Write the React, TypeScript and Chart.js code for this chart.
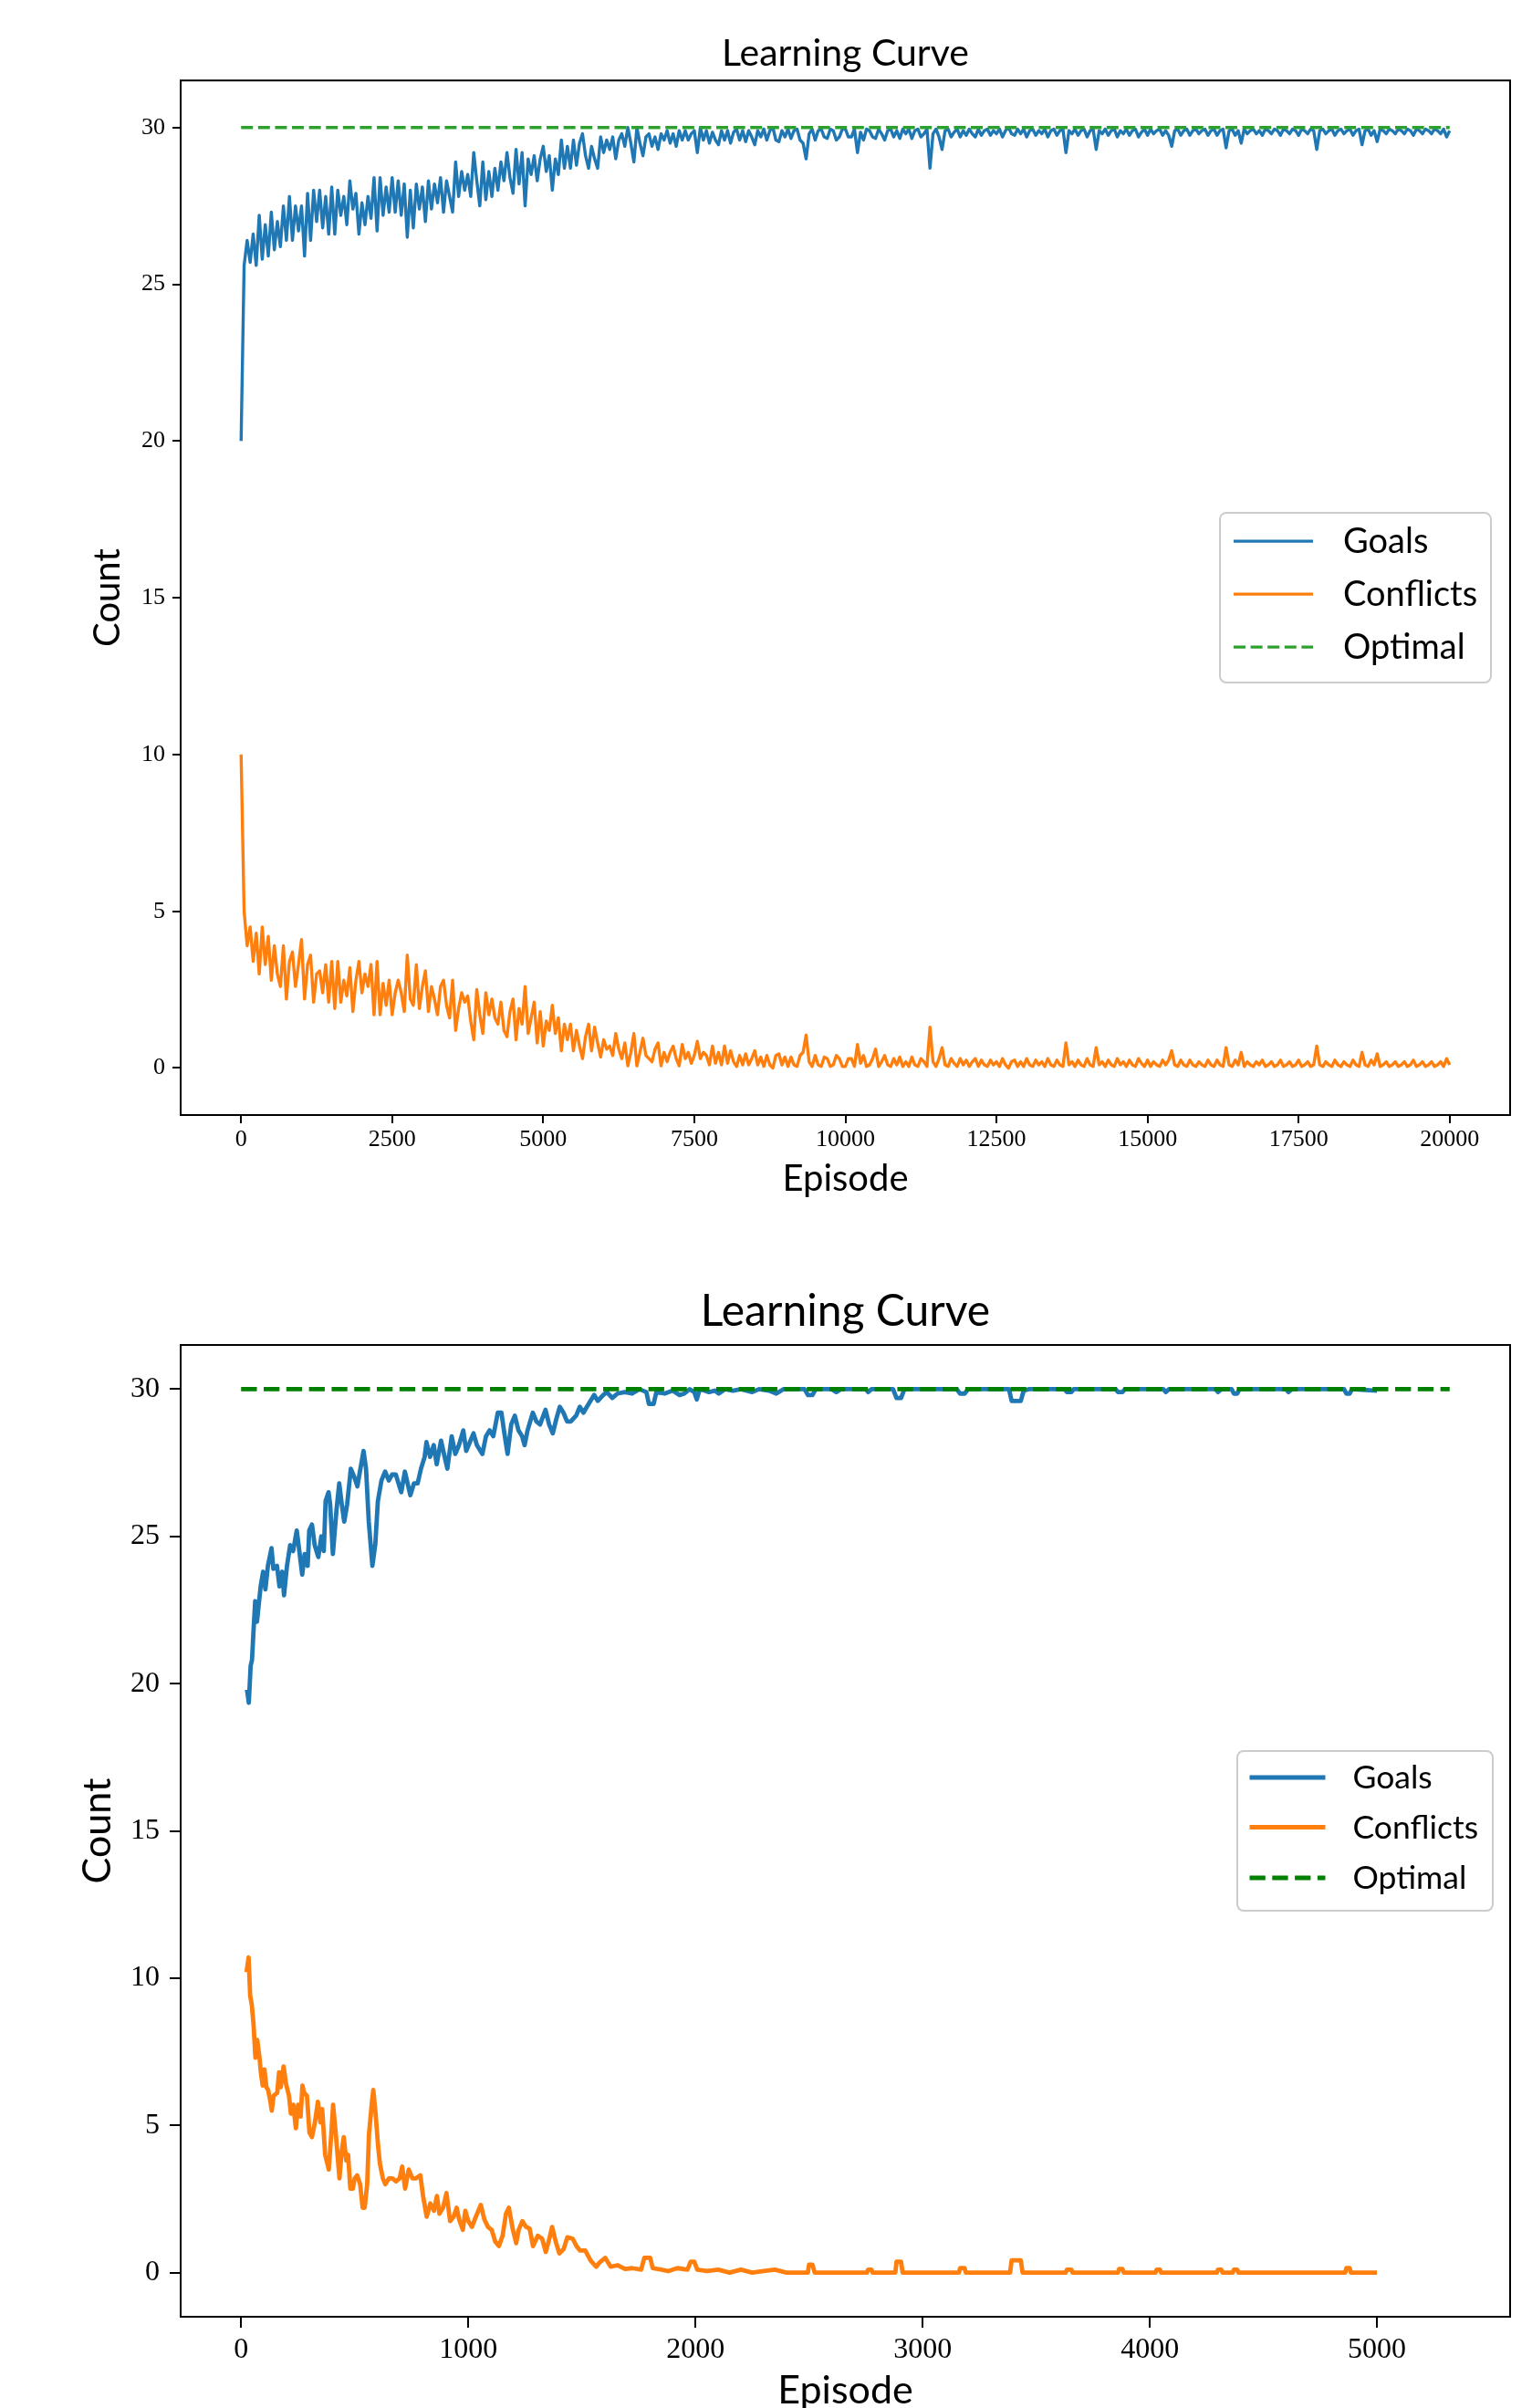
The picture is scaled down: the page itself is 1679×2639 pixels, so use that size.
import React, { useEffect, useRef } from "react";
import { Chart, registerables } from "chart.js";

Chart.register(...registerables);

// ---------------- DATA ----------------
const titleText = "Learning Curve";
const xLabel = "Episode";
const yLabel = "Count";
const seriesLabels = ["Goals", "Conflicts", "Optimal"];

const yTicks = [0, 5, 10, 15, 20, 25, 30];
const topXTicks = [0, 2500, 5000, 7500, 10000, 12500, 15000, 17500, 20000];
const bottomXTicks = [0, 1000, 2000, 3000, 4000, 5000];

// Top panel: one reading every 50 episodes, 0 .. 20000
const topEpisodeStep = 50;
const topGoals = [
  20.0, 25.6, 26.4, 25.7, 26.6, 25.6, 27.2, 25.8, 26.9, 25.9, 27.3, 26.1, 27.0, 26.2, 27.5, 26.4, 27.8, 26.4, 27.5, 26.7,
  27.5, 25.9, 27.9, 26.4, 28.0, 27.0, 28.0, 26.8, 27.8, 26.6, 28.1, 26.6, 28.0, 27.2, 27.8, 26.9, 28.3, 27.4, 27.9, 26.6,
  27.6, 26.9, 27.8, 27.1, 28.4, 26.7, 28.4, 27.2, 28.1, 27.3, 28.4, 27.3, 28.3, 27.2, 28.2, 26.5, 28.0, 26.8, 28.2, 27.4,
  28.1, 27.0, 28.3, 27.4, 28.2, 27.6, 28.4, 27.3, 28.3, 27.8, 27.3, 28.9, 27.8, 28.6, 28.0, 28.5, 27.8, 29.2, 28.3, 27.5,
  28.9, 27.7, 28.6, 27.8, 28.7, 28.0, 28.9, 28.3, 29.2, 28.4, 27.9, 29.3, 28.2, 29.2, 27.5, 29.0, 28.5, 29.1, 28.3, 29.0,
  29.4, 28.6, 29.1, 28.0, 29.0, 28.5, 29.6, 28.7, 29.4, 28.7, 29.6, 28.8, 29.5, 29.8, 29.1, 28.7, 29.4, 29.0, 28.7, 29.7,
  29.2, 29.6, 29.3, 29.7, 29.0, 29.6, 29.8, 29.4, 30.0, 29.5, 28.9, 30.0, 29.5, 29.1, 29.7, 29.8, 29.4, 29.7, 29.3, 29.8,
  29.6, 29.9, 29.5, 29.8, 29.4, 29.9, 29.6, 29.9, 29.6, 29.8, 29.9, 29.2, 30.0, 29.6, 29.9, 29.5, 29.85, 29.6, 29.45, 29.9,
  29.6, 29.9, 29.5, 29.85, 29.95, 29.6, 29.9, 29.55, 29.9, 29.7, 29.45, 29.9, 29.7, 29.95, 29.6, 29.9, 30.0, 29.6, 29.55, 29.9,
  29.7, 29.95, 29.65, 29.9, 29.95, 29.6, 29.5, 29.0, 29.8, 29.95, 29.6, 29.9, 29.95, 29.7, 29.65, 29.95, 29.9, 29.6, 29.7, 29.95,
  29.95, 29.7, 29.7, 29.95, 29.2, 29.85, 29.6, 29.95, 29.9, 29.7, 29.65, 29.95, 29.8, 29.6, 29.9, 29.95, 29.7, 29.9, 29.65, 29.95,
  29.8, 29.95, 29.65, 29.9, 29.95, 29.7, 29.8, 29.95, 28.7, 29.8, 29.95, 29.7, 29.3, 29.9, 29.95, 29.7, 29.85, 29.95, 29.7, 29.9,
  29.75, 29.95, 29.8, 29.7, 29.95, 29.75, 29.9, 29.95, 29.75, 29.9, 29.8, 29.95, 29.7, 29.9, 30.0, 29.8, 29.75, 29.95, 29.8, 29.95,
  29.7, 29.9, 29.95, 29.75, 29.9, 29.8, 29.95, 29.7, 29.9, 29.95, 29.75, 29.9, 29.95, 29.2, 29.9, 29.8, 29.95, 29.75, 29.9, 29.95,
  29.7, 29.9, 29.95, 29.3, 29.9, 29.8, 29.95, 29.75, 29.9, 29.95, 29.7, 29.9, 29.8, 29.95, 29.75, 29.9, 29.95, 29.7, 29.85, 29.95,
  29.75, 29.95, 29.8, 29.9, 29.95, 29.75, 29.9, 29.75, 29.4, 29.9, 29.95, 29.75, 29.9, 29.95, 29.75, 29.9, 29.95, 29.8, 29.9, 29.95,
  29.75, 29.9, 29.95, 29.75, 29.9, 29.95, 29.35, 29.9, 29.95, 29.75, 29.9, 29.5, 29.95, 29.8, 29.9, 29.95, 29.8, 29.9, 29.75, 29.95,
  29.9, 29.8, 29.95, 29.9, 29.75, 29.95, 29.9, 29.8, 29.95, 29.9, 29.75, 29.95, 29.9, 29.8, 29.95, 29.9, 29.3, 29.9, 29.95, 29.8,
  29.9, 29.95, 29.75, 29.9, 29.95, 29.8, 29.9, 29.95, 29.75, 29.9, 29.95, 29.45, 29.9, 29.95, 29.75, 29.9, 29.55, 29.95, 29.9, 29.8,
  29.95, 29.9, 29.8, 29.95, 29.9, 29.8, 29.95, 29.9, 29.75, 29.95, 29.9, 29.8, 29.95, 29.9, 29.8, 29.95, 29.9, 29.8, 29.95, 29.7,
  29.9,
];
const topConflicts = [
  10.0, 5.0, 3.9, 4.5, 3.4, 4.3, 3.0, 4.5, 3.3, 4.2, 2.8, 3.9, 3.0, 2.6, 3.9, 2.2, 3.4, 3.7, 2.6, 3.3,
  4.1, 2.2, 3.3, 3.6, 2.1, 3.0, 3.1, 2.4, 3.3, 2.1, 3.4, 1.9, 3.4, 2.1, 2.8, 2.3, 3.2, 1.8, 2.8, 3.4,
  2.4, 3.0, 2.6, 3.3, 1.7, 3.4, 1.7, 2.7, 2.0, 2.8, 1.7, 2.4, 2.8, 2.4, 1.8, 3.6, 2.2, 2.0, 3.3, 1.9,
  2.6, 3.1, 1.8, 2.6, 2.2, 1.7, 2.6, 2.8, 2.0, 1.6, 2.8, 1.2, 1.9, 2.4, 2.1, 2.3, 1.5, 0.9, 2.5, 1.7,
  1.1, 2.4, 1.7, 2.2, 1.6, 1.4, 2.1, 1.2, 1.0, 1.8, 2.2, 0.9, 1.9, 1.4, 2.6, 1.1, 1.6, 2.1, 0.8, 1.8,
  0.7, 1.5, 1.2, 2.0, 1.1, 1.6, 0.55, 1.4, 0.9, 1.4, 0.55, 1.2, 0.7, 0.3, 1.0, 1.4, 0.55, 1.3, 0.8, 0.35,
  0.9, 0.6, 0.7, 0.4, 1.1, 0.6, 0.3, 0.8, 0.07, 0.5, 1.1, 0.07, 0.5, 0.95, 0.4, 0.3, 0.2, 0.6, 0.8, 0.07,
  0.5, 0.2, 0.5, 0.7, 0.3, 0.07, 0.75, 0.3, 0.5, 0.15, 0.4, 0.85, 0.3, 0.5, 0.4, 0.1, 0.7, 0.15, 0.5, 0.1,
  0.7, 0.15, 0.55, 0.2, 0.05, 0.4, 0.1, 0.45, 0.1, 0.3, 0.55, 0.1, 0.35, 0.05, 0.4, 0.1, 0.0, 0.4, 0.45, 0.1,
  0.35, 0.05, 0.35, 0.1, 0.05, 0.4, 0.5, 1.05, 0.2, 0.05, 0.4, 0.1, 0.05, 0.35, 0.3, 0.05, 0.1, 0.4, 0.3, 0.05,
  0.05, 0.3, 0.3, 0.05, 0.75, 0.15, 0.4, 0.05, 0.1, 0.3, 0.6, 0.05, 0.2, 0.4, 0.1, 0.05, 0.3, 0.1, 0.35, 0.05,
  0.2, 0.05, 0.35, 0.1, 0.05, 0.3, 0.2, 0.05, 1.3, 0.2, 0.05, 0.3, 0.65, 0.1, 0.05, 0.3, 0.15, 0.05, 0.3, 0.1,
  0.25, 0.05, 0.2, 0.3, 0.05, 0.25, 0.1, 0.05, 0.25, 0.1, 0.2, 0.05, 0.3, 0.1, 0.0, 0.2, 0.25, 0.05, 0.2, 0.05,
  0.3, 0.1, 0.05, 0.25, 0.1, 0.2, 0.05, 0.3, 0.1, 0.05, 0.25, 0.1, 0.05, 0.8, 0.1, 0.2, 0.05, 0.25, 0.1, 0.05,
  0.3, 0.1, 0.05, 0.65, 0.1, 0.2, 0.05, 0.25, 0.1, 0.05, 0.3, 0.1, 0.2, 0.05, 0.25, 0.1, 0.05, 0.3, 0.15, 0.05,
  0.25, 0.05, 0.2, 0.1, 0.05, 0.25, 0.1, 0.25, 0.55, 0.1, 0.05, 0.25, 0.1, 0.05, 0.25, 0.1, 0.05, 0.2, 0.1, 0.05,
  0.25, 0.1, 0.05, 0.25, 0.1, 0.05, 0.65, 0.1, 0.05, 0.25, 0.1, 0.5, 0.05, 0.2, 0.1, 0.05, 0.2, 0.1, 0.25, 0.05,
  0.1, 0.2, 0.05, 0.1, 0.25, 0.05, 0.1, 0.2, 0.05, 0.1, 0.25, 0.05, 0.1, 0.2, 0.05, 0.1, 0.7, 0.1, 0.05, 0.2,
  0.1, 0.05, 0.25, 0.1, 0.05, 0.2, 0.1, 0.05, 0.25, 0.1, 0.05, 0.5, 0.1, 0.05, 0.25, 0.1, 0.45, 0.05, 0.1, 0.2,
  0.05, 0.1, 0.2, 0.05, 0.1, 0.2, 0.05, 0.1, 0.25, 0.05, 0.1, 0.2, 0.05, 0.1, 0.2, 0.05, 0.1, 0.2, 0.05, 0.3,
  0.1,
];
const topOptimalX = [0, 20000];
const topOptimalY = [30, 30];

// Bottom panel (5000 episodes, smoothed)
const bottomGoalsX = [
  26, 34, 42, 48, 54, 62, 70, 78, 86, 97, 107, 118, 134, 142, 158, 169, 181, 189, 202, 216, 229, 245, 258, 269, 280,
  293, 300, 312, 324, 340, 353, 364, 372, 385, 392, 404, 420, 432, 443, 454, 467, 483, 499, 512, 523, 539, 550, 562,
  578, 591, 602, 618, 634, 650, 665, 681, 705, 721, 745, 761, 777, 792, 808, 816, 832, 848, 861, 880, 896, 908, 927,
  943, 959, 978, 991, 1007, 1023, 1038, 1062, 1078, 1094, 1110, 1130, 1146, 1157, 1173, 1189, 1205, 1221, 1237, 1248,
  1261, 1284, 1300, 1316, 1340, 1356, 1372, 1388, 1403, 1419, 1435, 1451, 1475, 1491, 1507, 1522, 1538, 1554, 1570,
  1594, 1610, 1634, 1657, 1689, 1721, 1753, 1784, 1795, 1816, 1828, 1864, 1900, 1930, 1951, 1975, 1995, 2006, 2015,
  2022, 2060, 2086, 2102, 2130, 2165, 2200, 2250, 2280, 2324, 2356, 2387, 2480, 2495, 2515, 2530, 2600, 2620, 2640,
  2750, 2760, 2775, 2870, 2885, 2905, 2920, 3150, 3165, 3185, 3200, 3380, 3392, 3432, 3445, 3470, 3625, 3635, 3655,
  3665, 3850, 3860, 3880, 3890, 4060, 4070, 4085, 4290, 4300, 4315, 4360, 4370, 4385, 4395, 4600, 4610, 4625, 4855,
  4865, 4880, 4890, 5000,
];
const bottomGoalsY = [
  19.8, 19.35, 20.6, 20.8, 21.7, 22.8, 22.1, 22.7, 23.3, 23.8, 23.2, 24.0, 24.6, 23.9, 24.0, 23.3, 23.8, 23.0, 24.0,
  24.7, 24.5, 25.2, 24.4, 23.7, 24.4, 24.0, 25.2, 25.4, 24.7, 24.3, 25.0, 24.5, 26.2, 26.5, 26.1, 24.4, 25.9, 26.8,
  26.1, 25.5, 26.1, 27.3, 27.0, 26.7, 27.2, 27.9, 27.3, 25.5, 24.0, 24.75, 26.2, 26.9, 27.2, 26.9, 27.1, 27.1, 26.5,
  27.2, 26.4, 26.8, 26.8, 27.3, 27.7, 28.2, 27.7, 28.1, 27.45, 28.25, 27.7, 27.3, 28.4, 27.8, 28.1, 28.6, 27.9, 28.2,
  28.5, 28.1, 27.8, 28.4, 28.6, 28.4, 29.2, 29.2, 28.6, 27.8, 28.8, 29.1, 28.6, 28.4, 28.1, 28.6, 29.2, 28.9, 28.8,
  29.3, 28.8, 28.5, 29.0, 29.4, 29.2, 28.9, 28.9, 29.1, 29.4, 29.2, 29.4, 29.6, 29.8, 29.6, 29.8, 29.9, 29.7, 29.85,
  29.9, 29.85, 30.0, 29.9, 29.5, 29.5, 29.9, 29.85, 29.95, 29.8, 29.85, 30.0, 29.9, 29.65, 29.9, 30.0, 29.9, 29.95,
  29.85, 30.0, 29.95, 30.0, 29.9, 30.0, 29.95, 29.85, 30.0, 30.0, 29.8, 29.8, 30.0, 30.0, 29.9, 30.0, 30.0, 29.9,
  30.0, 30.0, 29.7, 29.7, 30.0, 30.0, 29.85, 29.85, 30.0, 30.0, 29.6, 29.6, 29.95, 30.0, 30.0, 29.9, 29.9, 30.0,
  30.0, 29.9, 29.9, 30.0, 30.0, 29.9, 30.0, 30.0, 29.9, 30.0, 30.0, 29.85, 29.85, 30.0, 30.0, 29.9, 30.0, 30.0,
  29.85, 29.85, 30.0, 29.95,
];

const bottomConflictsX = [
  24, 33, 40, 47, 55, 63, 71, 81, 87, 95, 103, 111, 119, 127, 135, 143, 159, 167, 175, 187, 198, 211, 219, 230, 241,
  251, 262, 270, 278, 290, 301, 312, 325, 338, 349, 357, 370, 386, 397, 405, 417, 433, 444, 452, 463, 471, 481, 492,
  500, 511, 524, 535, 544, 555, 563, 576, 582, 592, 603, 611, 624, 635, 651, 666, 682, 698, 709, 722, 738, 754, 770,
  789, 801, 817, 833, 849, 862, 873, 889, 904, 920, 936, 949, 960, 976, 987, 1000, 1016, 1031, 1055, 1071, 1087, 1103,
  1119, 1135, 1151, 1166, 1179, 1195, 1211, 1222, 1238, 1254, 1270, 1285, 1306, 1325, 1341, 1357, 1369, 1385, 1401,
  1420, 1436, 1460, 1476, 1492, 1515, 1539, 1563, 1579, 1603, 1627, 1658, 1690, 1722, 1761, 1775, 1801, 1812, 1850,
  1880, 1920, 1965, 1979, 1995, 2008, 2050, 2100, 2150, 2200, 2250, 2300, 2350, 2400, 2495, 2500, 2515, 2525, 2755,
  2760, 2775, 2780, 2880, 2885, 2905, 2912, 3160, 3165, 3185, 3190, 3385, 3392, 3432, 3440, 3630, 3635, 3655, 3660,
  3860, 3865, 3880, 3885, 4025, 4030, 4045, 4050, 4295, 4300, 4315, 4320, 4365, 4370, 4385, 4390, 4860, 4865, 4880,
  4885, 5000,
];
const bottomConflictsY = [
  10.2, 10.7, 9.4, 9.1, 8.4, 7.3, 7.9, 7.3, 6.8, 6.35, 6.9, 6.3, 6.2, 5.9, 5.5, 6.0, 6.1, 6.8, 6.3, 7.0, 6.4, 6.0, 5.4,
  5.7, 4.9, 5.7, 5.3, 6.35, 6.1, 6.0, 4.75, 4.6, 5.1, 5.8, 5.1, 5.55, 4.0, 3.5, 4.7, 5.7, 4.7, 3.2, 4.2, 4.6, 3.8, 4.0,
  2.85, 2.85, 3.2, 3.3, 3.0, 2.2, 2.2, 3.0, 4.7, 5.8, 6.2, 5.4, 4.3, 3.7, 3.2, 3.0, 3.2, 3.2, 3.1, 3.2, 3.6, 2.85, 3.5,
  3.2, 3.2, 3.3, 2.6, 1.9, 2.35, 2.1, 2.6, 2.0, 2.2, 2.7, 1.75, 1.9, 2.2, 1.8, 1.45, 2.1, 1.75, 1.55, 1.85, 2.3, 1.8,
  1.55, 1.45, 1.05, 0.9, 1.25, 2.0, 2.2, 1.5, 1.0, 1.45, 1.75, 1.55, 1.5, 0.9, 1.25, 1.15, 0.7, 1.15, 1.55, 1.05, 0.65,
  0.8, 1.2, 1.15, 0.9, 0.75, 0.75, 0.4, 0.2, 0.35, 0.5, 0.2, 0.25, 0.12, 0.15, 0.1, 0.5, 0.5, 0.15, 0.1, 0.05, 0.15,
  0.1, 0.37, 0.37, 0.1, 0.05, 0.1, 0.0, 0.1, 0.0, 0.05, 0.1, 0.0, 0.0, 0.27, 0.27, 0.0, 0.0, 0.1, 0.1, 0.0, 0.0, 0.37,
  0.37, 0.0, 0.0, 0.15, 0.15, 0.0, 0.0, 0.42, 0.42, 0.0, 0.0, 0.1, 0.1, 0.0, 0.0, 0.12, 0.12, 0.0, 0.0, 0.1, 0.1, 0.0,
  0.0, 0.1, 0.1, 0.0, 0.0, 0.1, 0.1, 0.0, 0.0, 0.15, 0.15, 0.0, 0.0,
];
const bottomOptimalX = [0, 5320];
const bottomOptimalY = [30, 30];

// ---------------- STYLE ----------------
const SANS = 'Lato, "Open Sans", "DejaVu Sans", sans-serif';
const SERIF = '"Liberation Serif", "DejaVu Serif", serif';
const C_BLUE = "#1f77b4";
const C_ORANGE = "#ff7f0e";

const pairs = (xs: number[], ys: number[]) => {
  const n = Math.min(xs.length, ys.length);
  const out: { x: number; y: number }[] = [];
  for (let i = 0; i < n; i++) out.push({ x: xs[i], y: ys[i] });
  return out;
};
const stepped = (ys: number[], step: number) => ys.map((y, i) => ({ x: i * step, y }));

const frameLegendPlugin = {
  id: "frameLegend",
  afterLayout(chart: any) {
    const tb = chart.titleBlock;
    if (tb) {
      tb.left = chart.chartArea.left;
      tb.right = chart.chartArea.right;
    }
  },
  afterDraw(chart: any, _args: any, o: any) {
    const { ctx, chartArea: a } = chart;
    ctx.save();
    ctx.lineWidth = o.frameWidth;
    ctx.strokeStyle = "#000";
    ctx.strokeRect(a.left, a.top, a.right - a.left, a.bottom - a.top);

    const g = o.legend;
    const bx = a.right - g.rightGap - g.width;
    const by = (a.top + a.bottom) / 2 - g.height / 2 + g.shiftY;
    ctx.beginPath();
    ctx.roundRect(bx, by, g.width, g.height, g.radius);
    ctx.fillStyle = "rgba(255,255,255,0.8)";
    ctx.fill();
    ctx.lineWidth = g.borderWidth;
    ctx.strokeStyle = "#cccccc";
    ctx.stroke();

    ctx.font = `${g.fontSize}px ${SANS}`;
    ctx.textBaseline = "middle";
    ctx.textAlign = "left";
    chart.data.datasets.forEach((ds: any, i: number) => {
      const ry = by + g.rows[i];
      ctx.beginPath();
      ctx.setLineDash(ds.borderDash || []);
      ctx.lineWidth = ds.borderWidth;
      ctx.strokeStyle = ds.borderColor;
      ctx.moveTo(bx + g.lineStart, ry);
      ctx.lineTo(bx + g.lineEnd, ry);
      ctx.stroke();
      ctx.setLineDash([]);
      ctx.fillStyle = "#000";
      ctx.fillText(ds.label, bx + g.textX, ry + g.textDy);
    });
    ctx.restore();
  },
};

type Panel = {
  height: number;
  datasets: any[];
  xMin: number;
  xMax: number;
  xTicks: number[];
  titleSize: number;
  titlePad: { top: number; bottom: number };
  tickSize: number;
  tickLen: number;
  xTickPad: number;
  yTickPad: number;
  labelSize: number;
  xTitlePadBottom: number;
  xTitleLineHeight: number;
  yTitlePadTop: number;
  xAxisHeight: number;
  legend: any;
};

function buildConfig(p: Panel): any {
  const tickFont = { family: SERIF, size: p.tickSize };
  const grid = {
    drawOnChartArea: false,
    drawTicks: true,
    tickLength: p.tickLen,
    tickWidth: 2,
    lineWidth: 2,
    color: "#000",
  };
  return {
    type: "line",
    data: { datasets: p.datasets },
    plugins: [frameLegendPlugin],
    options: {
      responsive: false,
      animation: false,
      devicePixelRatio: 1,
      layout: { padding: { left: 0, right: 24, top: 0, bottom: 0 } },
      elements: { point: { radius: 0 }, line: { tension: 0 } },
      plugins: {
        legend: { display: false },
        tooltip: { enabled: false },
        title: {
          display: true,
          text: titleText,
          color: "#000",
          font: { family: SANS, size: p.titleSize, weight: "normal", lineHeight: 1.2 },
          padding: p.titlePad,
        },
        frameLegend: { frameWidth: 2, legend: p.legend },
      },
      scales: {
        x: {
          type: "linear",
          min: p.xMin,
          max: p.xMax,
          afterBuildTicks: (s: any) => {
            s.ticks = p.xTicks.map((v) => ({ value: v }));
          },
          afterFit: (s: any) => {
            s.height = p.xAxisHeight;
          },
          ticks: {
            autoSkip: false,
            maxRotation: 0,
            color: "#000",
            font: tickFont,
            padding: p.xTickPad,
            callback: (v: any) => String(v),
          },
          grid,
          border: { display: false },
          title: {
            display: true,
            text: xLabel,
            color: "#000",
            font: { family: SANS, size: p.labelSize, lineHeight: p.xTitleLineHeight },
            padding: { top: 0, bottom: p.xTitlePadBottom },
          },
        },
        y: {
          type: "linear",
          min: -1.5,
          max: 31.5,
          afterBuildTicks: (s: any) => {
            s.ticks = yTicks.map((v) => ({ value: v }));
          },
          afterFit: (s: any) => {
            s.width = 198;
          },
          ticks: {
            color: "#000",
            font: tickFont,
            padding: p.yTickPad,
            callback: (v: any) => String(v),
          },
          grid,
          border: { display: false },
          title: {
            display: true,
            text: yLabel,
            color: "#000",
            font: { family: SANS, size: p.labelSize, lineHeight: 1.2 },
            padding: { top: p.yTitlePadTop, bottom: 0 },
          },
        },
      },
    },
  };
}

const line = (label: string, data: any[], color: string, width: number, order: number, dash?: number[]) => ({
  label,
  data,
  borderColor: color,
  backgroundColor: color,
  borderWidth: width,
  borderDash: dash || [],
  borderJoinStyle: "round",
  pointRadius: 0,
  fill: false,
  order,
});

const topPanel: Panel = {
  height: 1350,
  datasets: [
    line(seriesLabels[0], stepped(topGoals, topEpisodeStep), C_BLUE, 3.4, 3),
    line(seriesLabels[1], stepped(topConflicts, topEpisodeStep), C_ORANGE, 3.4, 2),
    line(seriesLabels[2], pairs(topOptimalX, topOptimalY), "#2ca02c", 3.4, 1, [13, 5.6]),
  ],
  xMin: -1000,
  xMax: 21000,
  xTicks: topXTicks,
  titleSize: 41,
  titlePad: { top: 34, bottom: 5 },
  tickSize: 26,
  tickLen: 9,
  xTickPad: 3,
  yTickPad: 8,
  labelSize: 40,
  xTitlePadBottom: 34,
  xTitleLineHeight: 1.2,
  yTitlePadTop: 94,
  xAxisHeight: 128,
  legend: {
    rightGap: 21,
    width: 297,
    height: 186,
    shiftY: 0,
    radius: 7,
    borderWidth: 2,
    rows: [31, 89, 147],
    lineStart: 15,
    lineEnd: 102,
    textX: 135,
    textDy: 1,
    fontSize: 38,
  },
};

const bottomPanel: Panel = {
  height: 1289,
  datasets: [
    line(seriesLabels[0], pairs(bottomGoalsX, bottomGoalsY), C_BLUE, 4.8, 3),
    line(seriesLabels[1], pairs(bottomConflictsX, bottomConflictsY), C_ORANGE, 4.8, 2),
    line(seriesLabels[2], pairs(bottomOptimalX, bottomOptimalY), "#008000", 4.8, 1, [17.3, 7.5]),
  ],
  xMin: -266,
  xMax: 5586,
  xTicks: bottomXTicks,
  titleSize: 48,
  titlePad: { top: 59, bottom: 7.4 },
  tickSize: 32,
  tickLen: 12,
  xTickPad: 5,
  yTickPad: 11,
  labelSize: 43,
  xTitlePadBottom: 2,
  xTitleLineHeight: 0.8,
  yTitlePadTop: 81,
  xAxisHeight: 100,
  legend: {
    rightGap: 19,
    width: 280,
    height: 175,
    shiftY: 0,
    radius: 7,
    borderWidth: 2,
    rows: [29, 83.5, 139],
    lineStart: 13.5,
    lineEnd: 96.5,
    textX: 126.5,
    textDy: 1,
    fontSize: 35.5,
  },
};

function ChartPanel({ panel }: { panel: Panel }) {
  const ref = useRef<HTMLCanvasElement | null>(null);
  useEffect(() => {
    if (!ref.current) return;
    const chart = new Chart(ref.current, buildConfig(panel));
    return () => chart.destroy();
  }, [panel]);
  return (
    <canvas
      ref={ref}
      width={1679}
      height={panel.height}
      style={{ display: "block", width: 1679, height: panel.height }}
    />
  );
}

export default function App() {
  return (
    <div
      style={{
        position: "absolute",
        left: 0,
        top: 0,
        width: 1679,
        height: 2639,
        overflow: "hidden",
        background: "#fff",
      }}
    >
      <ChartPanel panel={topPanel} />
      <ChartPanel panel={bottomPanel} />
    </div>
  );
}
